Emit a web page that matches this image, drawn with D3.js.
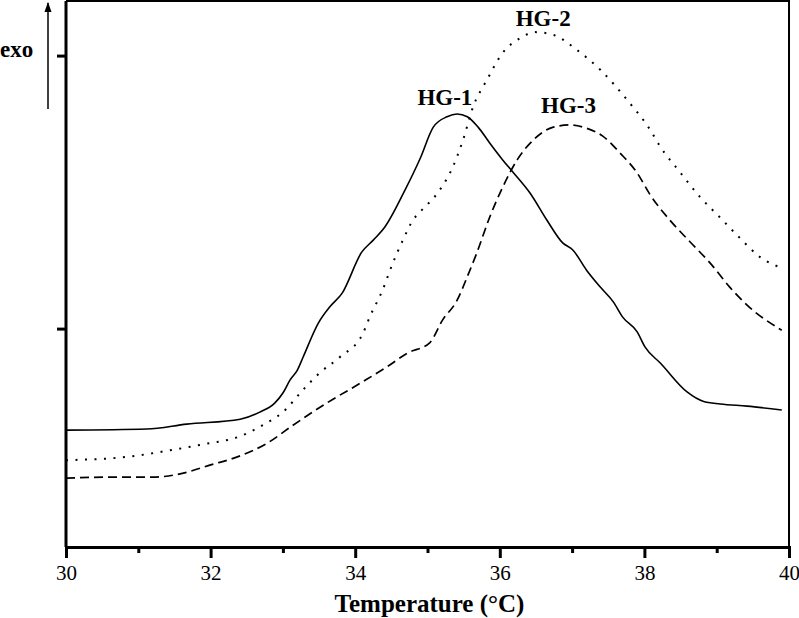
<!DOCTYPE html>
<html>
<head>
<meta charset="utf-8">
<script src="https://cdn.jsdelivr.net/npm/d3@7"></script>
<style>
  body { margin: 0; background: #fff; }
  text { font-family: "Liberation Serif", "Times New Roman", serif; }
</style>
</head>
<body>
<svg id="plot"></svg>
<script>
// Temperature (°C)
const tempHG1 = [30.00, 31.12, 31.67, 32.41, 32.68, 32.89, 33.00, 33.10, 33.20, 33.28, 33.49, 33.65, 33.82, 34.09, 34.25, 34.41, 34.69, 34.90, 35.08, 35.27, 35.41, 35.55, 35.70, 35.86, 36.04, 36.18, 36.42, 36.65, 36.87, 37.01, 37.20, 37.39, 37.57, 37.70, 37.90, 38.01, 38.22, 38.59, 38.81, 39.05, 39.42, 39.90];
const heatHG1 = [2.14, 2.16, 2.25, 2.34, 2.47, 2.64, 2.82, 3.06, 3.24, 3.48, 4.10, 4.40, 4.65, 5.40, 5.62, 5.86, 6.54, 7.12, 7.69, 7.88, 7.93, 7.88, 7.69, 7.40, 7.09, 6.87, 6.48, 5.99, 5.57, 5.44, 5.07, 4.76, 4.49, 4.21, 3.94, 3.66, 3.37, 2.84, 2.67, 2.62, 2.58, 2.51];

const tempHG2 = [30.00, 30.84, 31.30, 31.85, 32.41, 32.72, 33.00, 33.28, 33.51, 33.79, 34.11, 34.20, 34.38, 34.52, 34.66, 34.80, 34.90, 35.17, 35.35, 35.49, 35.63, 35.82, 36.04, 36.28, 36.49, 36.74, 37.07, 37.39, 37.76, 38.08, 38.22, 38.49, 38.77, 39.05, 39.32, 39.60, 39.90];
const heatHG2 = [1.59, 1.65, 1.74, 1.87, 2.03, 2.23, 2.47, 2.88, 3.19, 3.48, 3.92, 4.21, 4.71, 5.20, 5.62, 5.99, 6.14, 6.54, 6.96, 7.45, 8.06, 8.55, 9.05, 9.32, 9.43, 9.38, 9.10, 8.74, 8.19, 7.64, 7.33, 6.87, 6.41, 6.03, 5.66, 5.31, 5.11];

const tempHG3 = [30.00, 30.61, 31.20, 31.58, 31.99, 32.37, 32.78, 33.14, 33.61, 34.07, 34.44, 34.72, 35.03, 35.21, 35.41, 35.55, 35.68, 35.86, 36.04, 36.24, 36.46, 36.74, 36.97, 37.20, 37.42, 37.66, 37.90, 38.08, 38.35, 38.63, 38.91, 39.18, 39.42, 39.90];
const heatHG3 = [1.26, 1.28, 1.28, 1.34, 1.50, 1.65, 1.90, 2.23, 2.64, 3.00, 3.30, 3.55, 3.74, 4.16, 4.52, 4.95, 5.38, 6.04, 6.59, 7.09, 7.45, 7.69, 7.73, 7.67, 7.53, 7.22, 6.85, 6.45, 5.99, 5.59, 5.20, 4.76, 4.43, 3.97];

const seriesNames = ["HG-1", "HG-2", "HG-3"];
const labelPos = [[35.24, 8.1], [36.60, 9.55], [36.95, 7.95]]; // label anchor (temp, heat)

const majorTicks = [30, 32, 34, 36, 38, 40];
const minorTicks = [31, 33, 35, 37, 39];
const yTicks = [4, 9];

const width = 799, height = 618;
const margin = {top: 1, right: 9, bottom: 71, left: 66};

const x = d3.scaleLinear().domain([30, 40]).range([margin.left, width - margin.right - 1]);
const y = d3.scaleLinear().domain([0, 10]).range([height - margin.bottom, margin.top]);

const svg = d3.select("#plot")
    .attr("width", width)
    .attr("height", height)
    .attr("viewBox", [0, 0, width, height]);

const series = [
  {name: seriesNames[0], t: tempHG1, v: heatHG1, dash: null, w: 1.6},
  {name: seriesNames[1], t: tempHG2, v: heatHG2, dash: "2,7.5", w: 2},
  {name: seriesNames[2], t: tempHG3, v: heatHG3, dash: "9,5", w: 1.7}
];

const line = d3.line()
    .curve(d3.curveMonotoneX)
    .x(d => x(d[0]))
    .y(d => y(d[1]));

svg.append("g")
  .selectAll("path")
  .data(series)
  .join("path")
    .attr("fill", "none")
    .attr("stroke", "#000")
    .attr("stroke-width", d => d.w)
    .attr("stroke-dasharray", d => d.dash)
    .attr("d", d => line(d.t.map((t, i) => [t, d.v[i]])));

// series labels
svg.append("g")
  .selectAll("text")
  .data(series)
  .join("text")
    .attr("x", (d, i) => x(labelPos[i][0]))
    .attr("y", (d, i) => y(labelPos[i][1]))
    .attr("text-anchor", "middle")
    .attr("font-weight", "bold")
    .attr("font-size", 23)
    .text(d => d.name);

// frame: top and right
svg.append("path")
    .attr("fill", "none")
    .attr("stroke", "#000")
    .attr("stroke-width", 2)
    .attr("d", `M${x(30)},${y(10)}H${x(40)}V${y(0)}`);

// x axis
const xAxis = svg.append("g")
    .attr("transform", `translate(0,${y(0)})`)
    .call(d3.axisBottom(x).tickValues(majorTicks).tickSize(11).tickPadding(7).tickFormat(d3.format("d")));
xAxis.select(".domain").attr("stroke-width", 3);
xAxis.selectAll(".tick line").attr("stroke-width", 3);
xAxis.selectAll(".tick text")
    .attr("font-family", "Liberation Serif, serif")
    .attr("font-size", 21)
    .attr("fill", "#000");

svg.append("g")
    .attr("transform", `translate(0,${y(0)})`)
    .call(d3.axisBottom(x).tickValues(minorTicks).tickSize(6).tickFormat(""))
    .call(g => g.select(".domain").remove())
    .selectAll(".tick line").attr("stroke-width", 3);

// y axis
const yAxis = svg.append("g")
    .attr("transform", `translate(${x(30)},0)`)
    .call(d3.axisLeft(y).tickValues(yTicks).tickSize(9).tickFormat(""));
yAxis.select(".domain").attr("stroke-width", 3).attr("d", `M0,${y(10)}V${y(0)}`);
yAxis.selectAll(".tick line").attr("stroke-width", 3);

// axis title
svg.append("text")
    .attr("x", (x(30) + x(40)) / 2 + 2)
    .attr("y", 612)
    .attr("text-anchor", "middle")
    .attr("font-weight", "bold")
    .attr("font-size", 25)
    .text("Temperature (°C)");

// exo arrow
svg.append("defs").append("marker")
    .attr("id", "arrow")
    .attr("viewBox", "0 0 10 10")
    .attr("refX", 9).attr("refY", 5)
    .attr("markerWidth", 7).attr("markerHeight", 7)
    .attr("orient", "auto")
  .append("path")
    .attr("d", "M0,1.5L10,5L0,8.5z")
    .attr("fill", "#000");

svg.append("line")
    .attr("x1", 48).attr("y1", 109)
    .attr("x2", 48).attr("y2", 3)
    .attr("stroke", "#000")
    .attr("stroke-width", 1.5)
    .attr("marker-end", "url(#arrow)");

svg.append("text")
    .attr("x", 0)
    .attr("y", 57)
    .attr("font-weight", "bold")
    .attr("font-size", 23)
    .text("exo");
</script>
</body>
</html>
